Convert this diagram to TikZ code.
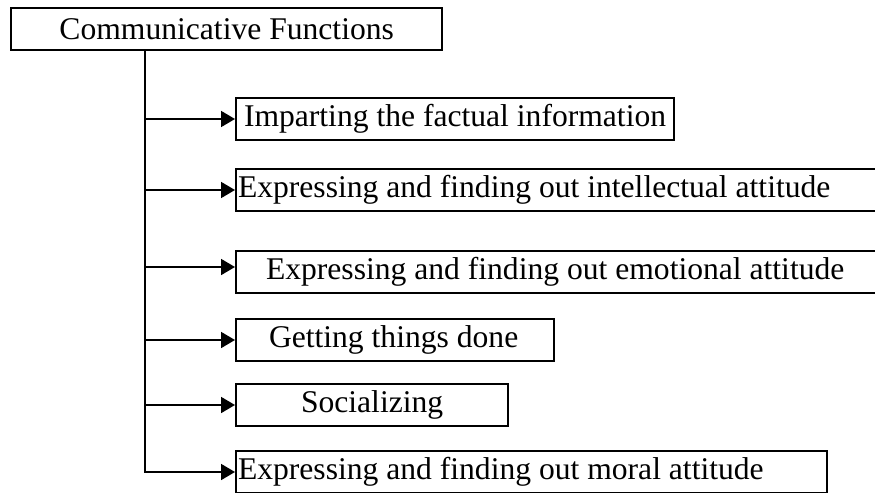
\documentclass[tikz,border=0pt]{standalone}
\usepackage{fontspec}
\setmainfont{Liberation Serif}
\usetikzlibrary{arrows.meta}

\begin{document}
\begin{tikzpicture}[x=0.5pt,y=-0.5pt,
		box/.style={draw, line width=1pt, anchor=north west, minimum height=21pt,
			inner xsep=0pt, inner ysep=0pt, align=flush left, text width=#1,
			font=\fontsize{15.8}{19}\selectfont},
		arr/.style={-{Triangle[length=7pt,width=8pt]}, line width=0.9pt}]
		\useasboundingbox (0,0) rectangle (875,493);
		\node[box=215.5pt, line width=1.2pt, align=flush center] (cf) at (10,7) {Communicative Functions};
		\coordinate (trunk) at ([xshift=67.5pt]cf.south west);
		\node[box=219pt] (n1) at (235,97) {\hspace*{4pt}Imparting the factual information};
		\node[box=327.5pt] (n2) at (235,168) {\hspace*{1pt}Expressing and finding out intellectual attitude};
		\node[box=327.5pt] (n3) at (235,250) {\hspace*{15pt}Expressing and finding out emotional attitude};
		\node[box=159pt] (n4) at (235,318) {\hspace*{16.5pt}Getting things done};
		\node[box=136pt] (n5) at (235,383) {\hspace*{32.5pt}Socializing};
		\node[box=295.5pt] (n6) at (235,450) {\hspace*{1pt}Expressing and finding out moral attitude};
		\coordinate (n3in) at ([yshift=2.5pt]n3.west);
		\draw[arr] (trunk |- n1.west) -- (n1.west);
		\draw[arr] (trunk |- n2.west) -- (n2.west);
		\draw[arr] (trunk |- n3in) -- (n3in);
		\draw[arr] (trunk |- n4.west) -- (n4.west);
		\draw[arr] (trunk |- n5.west) -- (n5.west);
		\draw[arr] (trunk) |- (n6.west);
	\end{tikzpicture}
\end{document}
